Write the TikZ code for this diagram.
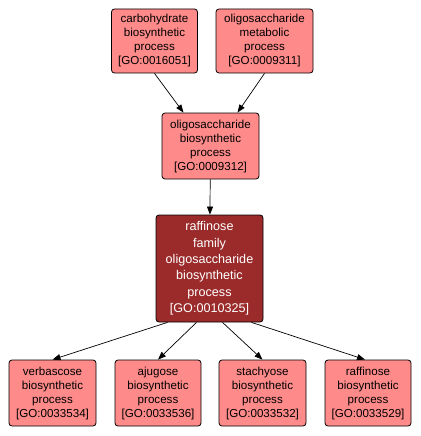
\documentclass[tikz,border=0pt]{standalone}
\usepackage{fontspec}
\setmainfont{Liberation Sans}
\usetikzlibrary{arrows.meta}
\definecolor{nodefill}{RGB}{255,138,138}
\definecolor{focusfill}{RGB}{155,43,43}
\tikzset{
  goterm/.style={draw=black, line width=0.8pt, rounded corners=3pt, fill=nodefill, align=center,
    font=\fontsize{11.6}{14}\selectfont, inner sep=0pt, text=black},
  focus/.style={goterm, fill=focusfill, text=white, font=\fontsize{12.6}{16.4}\selectfont},
  edge/.style={draw=black, line width=0.7pt, -{Triangle[length=8pt,width=6pt]}}
}
\begin{document}
\begin{tikzpicture}[x=1pt,y=-1pt]
\useasboundingbox (0,0) rectangle (420,436);
\node[goterm, minimum width=86pt, minimum height=64pt] (c1) at (154.5,41) {carbohydrate\\biosynthetic\\process\\{[GO:0016051]}};
\node[goterm, minimum width=97pt, minimum height=64pt] (c2) at (264.5,41) {oligosaccharide\\metabolic\\process\\{[GO:0009311]}};
\node[goterm, minimum width=97pt, minimum height=66pt] (m) at (210.5,146) {oligosaccharide\\biosynthetic\\process\\{[GO:0009312]}};
\node[focus, minimum width=107pt, minimum height=107pt] (r) at (209.5,268.5) {raffinose\\family\\oligosaccharide\\biosynthetic\\process\\{[GO:0010325]}};
\node[goterm, minimum width=87pt, minimum height=66pt] (b1) at (52.5,393) {verbascose\\biosynthetic\\process\\{[GO:0033534]}};
\node[goterm, minimum width=86pt, minimum height=66pt] (b2) at (158,393) {ajugose\\biosynthetic\\process\\{[GO:0033536]}};
\node[goterm, minimum width=87pt, minimum height=66pt] (b3) at (262.5,393) {stachyose\\biosynthetic\\process\\{[GO:0033532]}};
\node[goterm, minimum width=86pt, minimum height=66pt] (b4) at (368,393) {raffinose\\biosynthetic\\process\\{[GO:0033529]}};
\draw[edge] (c1.south) -- ([xshift=-27pt]m.north);
\draw[edge] (c2.south) -- ([xshift=27pt]m.north);
\draw[edge] (m) -- (r);
\draw[edge] ([xshift=-42pt]r.south) -- (b1.north);
\draw[edge] ([xshift=-13pt]r.south) -- (b2.north);
\draw[edge] ([xshift=13pt]r.south) -- (b3.north);
\draw[edge] ([xshift=42pt]r.south) -- ([xshift=-3pt]b4.north);
\end{tikzpicture}
\end{document}
